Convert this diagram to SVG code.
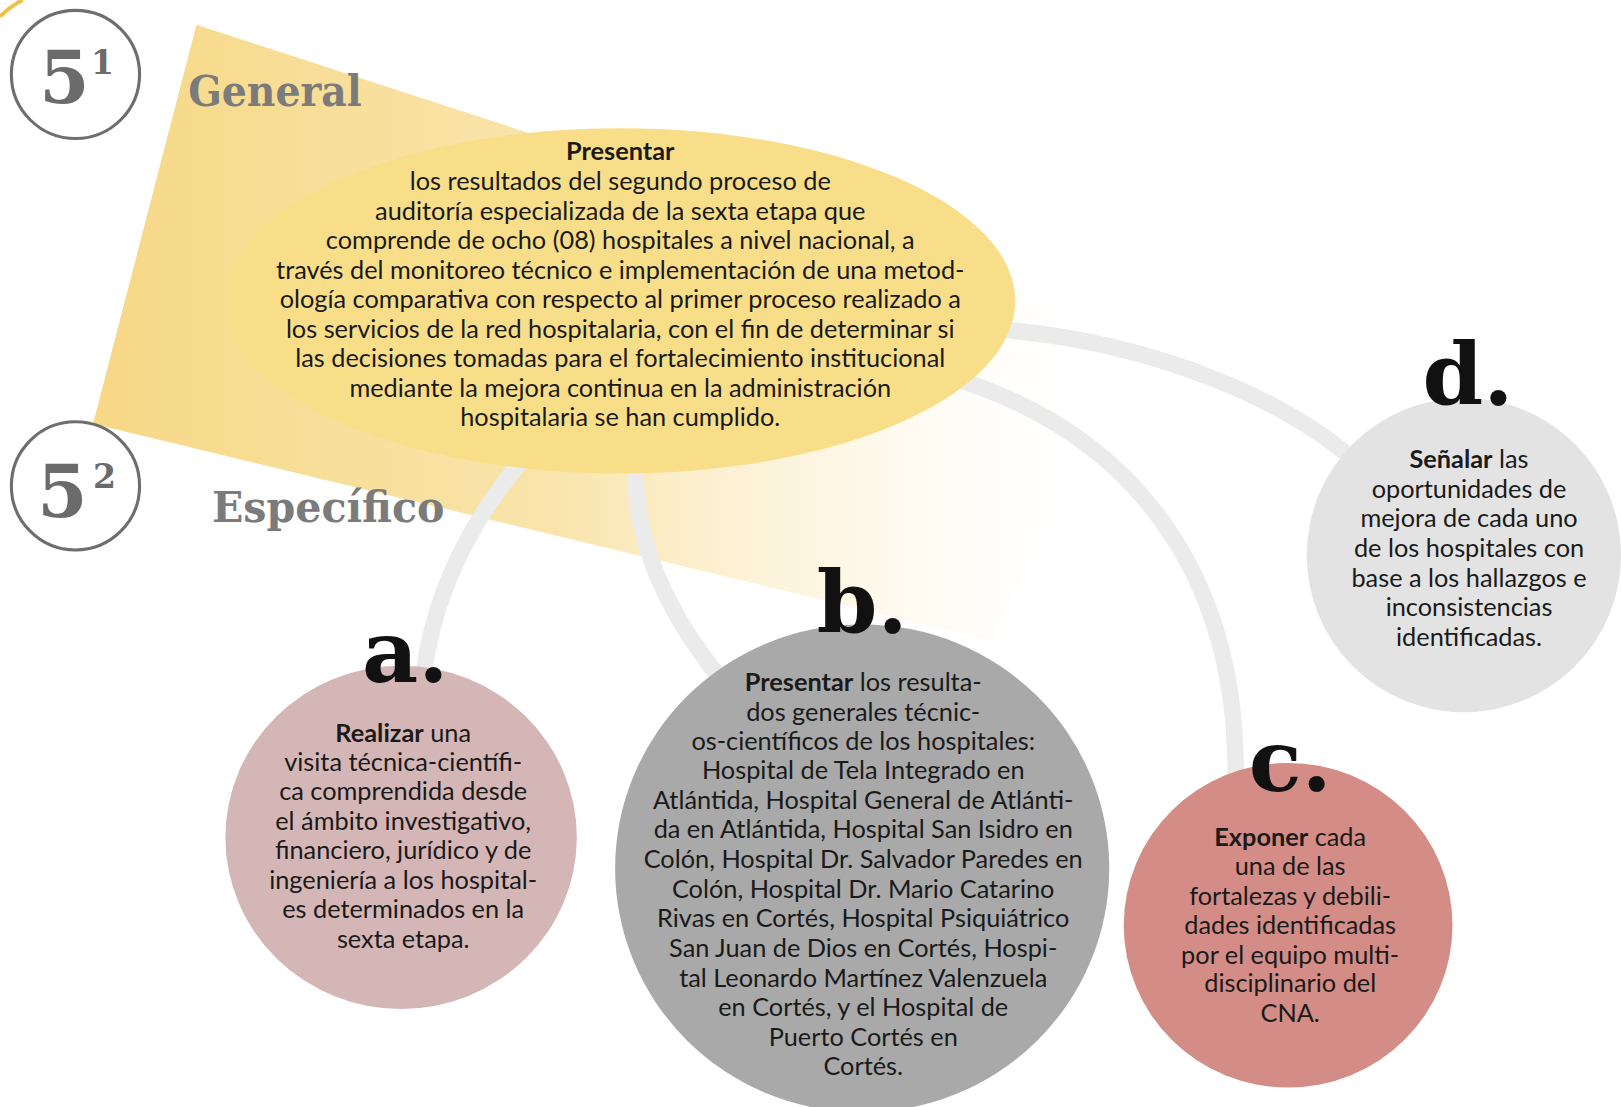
<svg xmlns="http://www.w3.org/2000/svg" width="1621" height="1107" viewBox="0 0 1621 1107">
<defs>
<linearGradient id="beam" x1="90" y1="0" x2="1080" y2="0" gradientUnits="userSpaceOnUse">
<stop offset="0" stop-color="#f6d886"/>
<stop offset="0.45" stop-color="#f9e4ab"/>
<stop offset="0.75" stop-color="#fdf3da" stop-opacity="0.6"/>
<stop offset="1" stop-color="#ffffff" stop-opacity="0"/>
</linearGradient>
<style>
.num{font-family:"DejaVu Serif",serif;font-weight:bold;fill:#6b6b6b}
.ring{fill:#fff;stroke:#6e6e6e;stroke-width:3}
.head{font-family:"DejaVu Serif",serif;font-weight:bold;fill:#7b7b7b}
.lbl{font-family:"DejaVu Serif",serif;font-weight:bold;fill:#111;font-size:84px;text-anchor:middle}
.t{font-family:Lato,"Noto Sans",sans-serif;font-size:24.5px;fill:#1a1a1a;text-anchor:middle}
.b{font-weight:bold}
.con{fill:none;stroke:#ebebeb;stroke-width:16;stroke-linecap:round}
</style>
</defs>
<rect width="1621" height="1107" fill="#ffffff"/>
<g transform="scale(1.0338)">
<path d="M0 16 Q10 6 22 0" fill="none" stroke="#f0c24a" stroke-width="4"/>
<polygon points="190,24 1100,320 960,620 90,410" fill="url(#beam)"/>

<g id="h1">
<circle class="ring" cx="73" cy="72" r="62"/>
<text class="num" x="38" y="100" font-size="70">5</text>
<text class="num" x="88" y="72" font-size="32">1</text>
<text class="head" x="182" y="103" font-size="42" textLength="168" lengthAdjust="spacingAndGlyphs">General</text>
</g>
<g id="h2">
<circle class="ring" cx="73" cy="470" r="62"/>
<text class="num" x="36" y="500" font-size="70">5</text>
<text class="num" x="90" y="472" font-size="32">2</text>
<text class="head" x="205" y="505" font-size="42" textLength="225" lengthAdjust="spacingAndGlyphs">Específico</text>
</g>

<g id="connectors">
<path class="con" d="M505 445 Q425 540 410 650"/>
<path class="con" d="M615 440 C610 525 650 600 700 660"/>
<path class="con" d="M920 365 C1100 420 1200 560 1195 760"/>
<path class="con" d="M960 318 C1120 330 1250 390 1315 450"/>
</g>

<g id="general">
<ellipse cx="600" cy="291" rx="382" ry="167" fill="#f8de89"/>
<text class="t b" x="600" y="155">Presentar</text>
<text class="t" x="600" y="184">los resultados del segundo proceso de</text>
<text class="t" x="600" y="213">auditoría especializada de la sexta etapa que</text>
<text class="t" x="600" y="241">comprende de ocho (08) hospitales a nivel nacional, a</text>
<text class="t" x="600" y="270">través del monitoreo técnico e implementación de una metod-</text>
<text class="t" x="600" y="298">ología comparativa con respecto al primer proceso realizado a</text>
<text class="t" x="600" y="327">los servicios de la red hospitalaria, con el fin de determinar si</text>
<text class="t" x="600" y="355">las decisiones tomadas para el fortalecimiento institucional</text>
<text class="t" x="600" y="384">mediante la mejora continua en la administración</text>
<text class="t" x="600" y="412">hospitalaria se han cumplido.</text>
</g>

<g id="node-a">
<ellipse cx="388" cy="810" rx="170" ry="166" fill="#d5b6b7"/>
<text class="lbl" x="392" y="660">a.</text>
<text class="t" x="390" y="718"><tspan class="b">Realizar</tspan> una</text>
<text class="t" x="390" y="746">visita técnica-científi-</text>
<text class="t" x="390" y="774">ca comprendida desde</text>
<text class="t" x="390" y="803">el ámbito investigativo,</text>
<text class="t" x="390" y="831">financiero, jurídico y de</text>
<text class="t" x="390" y="860">ingeniería a los hospital-</text>
<text class="t" x="390" y="888">es determinados en la</text>
<text class="t" x="390" y="917">sexta etapa.</text>
</g>

<g id="node-b">
<ellipse cx="834" cy="840" rx="239" ry="236" fill="#a9a9a9"/>
<text class="lbl" x="834" y="612">b.</text>
<text class="t" x="835" y="668"><tspan class="b">Presentar</tspan> los resulta-</text>
<text class="t" x="835" y="697">dos generales técnic-</text>
<text class="t" x="835" y="725">os-científicos de los hospitales:</text>
<text class="t" x="835" y="754">Hospital de Tela Integrado en</text>
<text class="t" x="835" y="783">Atlántida, Hospital General de Atlánti-</text>
<text class="t" x="835" y="811">da en Atlántida, Hospital San Isidro en</text>
<text class="t" x="835" y="840">Colón, Hospital Dr. Salvador Paredes en</text>
<text class="t" x="835" y="869">Colón, Hospital Dr. Mario Catarino</text>
<text class="t" x="835" y="897">Rivas en Cortés, Hospital Psiquiátrico</text>
<text class="t" x="835" y="926">San Juan de Dios en Cortés, Hospi-</text>
<text class="t" x="835" y="955">tal Leonardo Martínez Valenzuela</text>
<text class="t" x="835" y="983">en Cortés, y el Hospital de</text>
<text class="t" x="835" y="1012">Puerto Cortés en</text>
<text class="t" x="835" y="1040">Cortés.</text>
</g>

<g id="node-c">
<ellipse cx="1246" cy="895" rx="159" ry="157" fill="#d48c86"/>
<text class="lbl" x="1248" y="765">c.</text>
<text class="t" x="1248" y="818"><tspan class="b">Exponer</tspan> cada</text>
<text class="t" x="1248" y="846">una de las</text>
<text class="t" x="1248" y="875">fortalezas y debili-</text>
<text class="t" x="1248" y="903">dades identificadas</text>
<text class="t" x="1248" y="932">por el equipo multi-</text>
<text class="t" x="1248" y="960">disciplinario del</text>
<text class="t" x="1248" y="989">CNA.</text>
</g>

<g id="node-d">
<ellipse cx="1416" cy="537" rx="152" ry="152" fill="#e3e3e3"/>
<text class="lbl" x="1420" y="392">d.</text>
<text class="t" x="1421" y="453"><tspan class="b">Señalar</tspan> las</text>
<text class="t" x="1421" y="482">oportunidades de</text>
<text class="t" x="1421" y="510">mejora de cada uno</text>
<text class="t" x="1421" y="539">de los hospitales con</text>
<text class="t" x="1421" y="568">base a los hallazgos e</text>
<text class="t" x="1421" y="596">inconsistencias</text>
<text class="t" x="1421" y="625">identificadas.</text>
</g>
</g>
</svg>
